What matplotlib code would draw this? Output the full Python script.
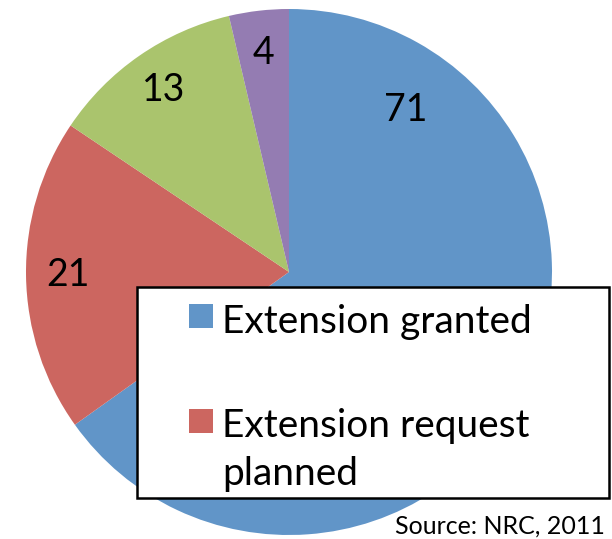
import matplotlib.pyplot as plt
from matplotlib.patches import Rectangle

plt.rcParams['font.family'] = ['Lato', 'DejaVu Sans']

# extension status counts
labels = ['Extension granted', 'Extension request\nplanned', 'Other', 'Pending']
counts = [71, 21, 13, 4]
colors = ['#6195C8', '#CC6660', '#AAC46D', '#947CB2']

W, H = 612, 539
fig = plt.figure(figsize=(W / 100, H / 100), dpi=100)
ax = fig.add_axes([0, 0, 1, 1])

cx, cy, r = 289, H - 272, 263
wedges, texts = ax.pie(counts, colors=colors, startangle=90, counterclock=False,
                       center=(cx, cy), radius=r, labels=[str(c) for c in counts],
                       labeldistance=0.84, frame=True,
                       textprops=dict(fontsize=27, ha='center', va='center'))
ax.set_xlim(0, W)
ax.set_ylim(0, H)
ax.set_aspect('equal')
ax.axis('off')
# the big slice's label sits up in the top right, clear of the legend
texts[0].set_position((406, H - 110))

# legend box, lower right over the pie
fig.patches.append(Rectangle((137 / W, 1 - 498 / H), 472 / W, 211 / H,
                             transform=fig.transFigure, facecolor='white',
                             edgecolor='black', linewidth=1.8, zorder=5))
rows = [(304, 333, 0), (409, 437, 1)]
for top, base, i in rows:
    fig.patches.append(Rectangle((189 / W, 1 - (top + 24) / H), 24 / W, 24 / H,
                                 transform=fig.transFigure, facecolor=colors[i],
                                 edgecolor='none', zorder=6))
    for k, line in enumerate(labels[i].split('\n')):
        fig.text(222 / W, 1 - (base + 48 * k) / H, line, fontsize=28,
                 va='baseline', ha='left', zorder=7)

fig.text(605 / W, 1 - 534 / H, 'Source: NRC, 2011', fontsize=18, ha='right', va='baseline')

fig.savefig('out.png', dpi=100)
